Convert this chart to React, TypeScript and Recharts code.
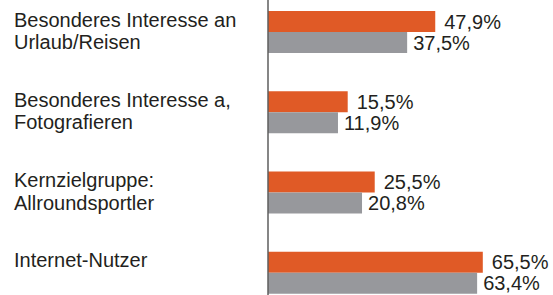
import { BarChart, Bar, XAxis, YAxis, LabelList } from 'recharts';

const CATEGORIES = [
  'Besonderes Interesse an\nUrlaub/Reisen',
  'Besonderes Interesse a,\nFotografieren',
  'Kernzielgruppe:\nAllroundsportler',
  'Internet-Nutzer',
];
const SERIES_A = [47.9, 15.5, 25.5, 65.5];
const SERIES_B = [37.5, 11.9, 20.8, 63.4];
// the source chart's value axis does not start at 0 at the baseline
const X_DOMAIN = [-14, 90];

const ORANGE = '#E05A26';
const GRAY = '#97989C';
const TEXT = '#231F20';
const FONT = '"Liberation Sans", Arial, sans-serif';

const data = CATEGORIES.map((name, i) => ({ name, a: SERIES_A[i], b: SERIES_B[i] }));

const fmt = (v: any) => `${Number(v).toFixed(1).replace('.', ',')}%`;

function CategoryTick({ y, payload }: any) {
  const lines = String(payload.value).split('\n');
  return (
    <text x={14} y={y - 5.5} fill={TEXT} fontSize={20} fontFamily={FONT} textAnchor="start">
      {lines.map((line, i) => (
        <tspan key={i} x={14} dy={i === 0 ? 0 : 22.5}>
          {line}
        </tspan>
      ))}
    </text>
  );
}

export default function App() {
  return (
    <div style={{ position: 'absolute', left: 0, top: 0, width: 553, height: 295, overflow: 'hidden', background: '#fff' }}>
      <div style={{ position: 'absolute', left: 0, top: -8 }}>
        <BarChart
          width={553}
          height={321}
          data={data}
          layout="vertical"
          margin={{ top: 0, right: 4, bottom: 0, left: 0 }}
          barCategoryGap={19}
          barGap={0}
        >
          <XAxis type="number" domain={X_DOMAIN} allowDataOverflow hide />
          <YAxis
            type="category"
            dataKey="name"
            width={268}
            axisLine={{ stroke: '#5E5E5E', strokeWidth: 1.5 }}
            tickLine={false}
            tick={<CategoryTick />}
          />
          <Bar dataKey={(d: any) => [X_DOMAIN[0], d.a]} fill={ORANGE} isAnimationActive={false}>
            <LabelList dataKey="a" position="right" offset={9} formatter={fmt} fill={TEXT} fontSize={20} fontFamily={FONT} />
          </Bar>
          <Bar dataKey={(d: any) => [X_DOMAIN[0], d.b]} fill={GRAY} isAnimationActive={false}>
            <LabelList dataKey="b" position="right" offset={6} formatter={fmt} fill={TEXT} fontSize={20} fontFamily={FONT} />
          </Bar>
        </BarChart>
      </div>
    </div>
  );
}
